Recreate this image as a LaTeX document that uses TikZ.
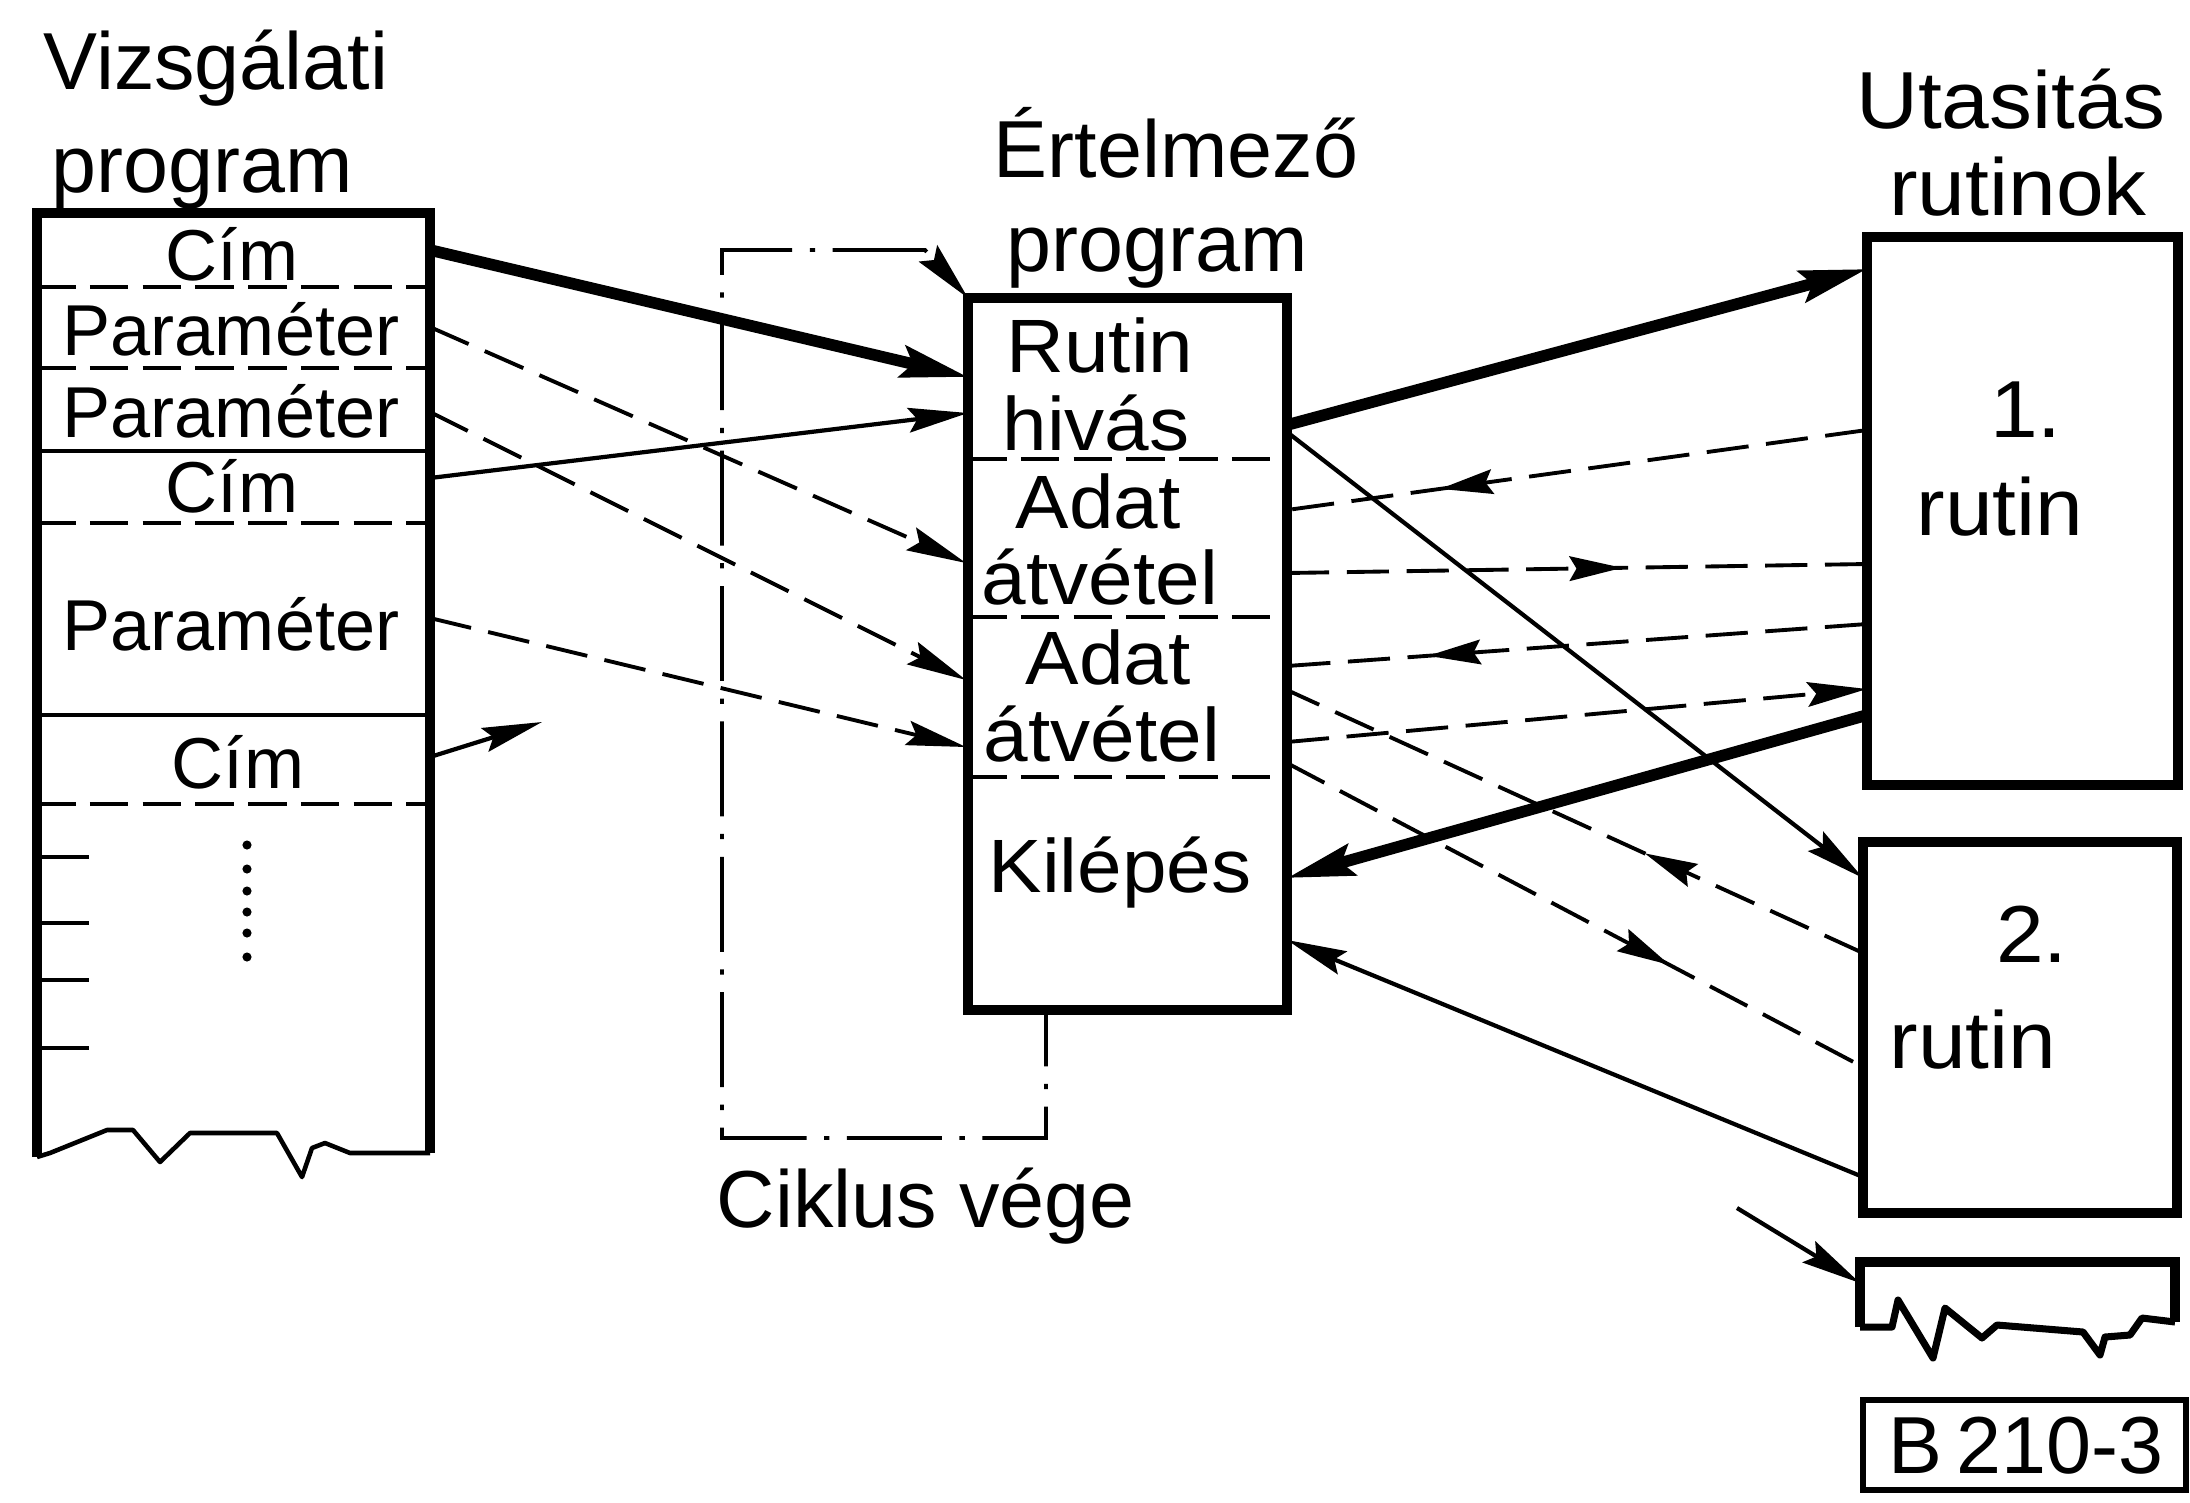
\documentclass[tikz,border=0pt]{standalone}
\usepackage{fontspec}
\setmainfont{Liberation Sans}
\newfontfamily\widefont{Liberation Sans}[FakeStretch=1.06]
\usetikzlibrary{arrows.meta,decorations.markings}
\begin{document}
\begin{tikzpicture}[x=0.01cm,y=-0.01cm,
  box/.style={line width=2.8pt, line join=miter},
  divs/.style={line width=1.1pt},
  divd/.style={line width=1.1pt, dash pattern=on 11pt off 4pt},
  tipthk/.tip={Stealth[length=19pt,width=9pt,inset=3pt]},
  tipthn/.tip={Stealth[length=17pt,width=7pt,inset=2.5pt]},
  thk/.style={line width=3.3pt, -tipthk},
  thn/.style={line width=1.2pt, -tipthn},
  dsh/.style={line width=1.1pt, dash pattern=on 12pt off 5pt},
  dsha/.style={dsh, -tipthn},
  marr/.style={postaction={decorate,decoration={markings,mark=at position #1 with {\arrow{Stealth[length=15pt,width=7pt,inset=2pt]}}}}},
  dd/.style={line width=1.1pt, dash pattern=on 27pt off 5pt on 1.5pt off 5pt},
  txt/.style={inner sep=0pt, anchor=base, font=\fontsize{23}{26}\selectfont},
  mtxt/.style={txt, font=\widefont\fontsize{21.5}{24}\selectfont},
  ltxt/.style={txt, font=\fontsize{20.5}{24}\selectfont},
  rtxt/.style={txt, font=\widefont\fontsize{23}{26}\selectfont},
]
\useasboundingbox (0,0) rectangle (2190,1502);

% ---------- left box: Vizsgalati program
\node[txt] (t1) at (216,89) {Vizsgálati};
\node[txt] (t2) at (202,192) {program};
\draw[box] (37,1157) -- (37,213) -- (430,213) -- (430,1153);
\draw[line width=1.3pt, line join=round] (37,1157) -- (50,1153) -- (107,1130) -- (133,1130) -- (160,1162) -- (190,1133) -- (277,1133) -- (302,1177) -- (312,1148) -- (325,1143) -- (350,1153) -- (430,1153);
\draw[divd] (37,287) -- (430,287);
\draw[divd] (37,368) -- (430,368);
\draw[divs] (37,451) -- (430,451);
\draw[divd] (37,523) -- (430,523);
\draw[divs] (37,715) -- (430,715);
\draw[divd] (37,804) -- (430,804);
\foreach \y in {857,923,980,1048} \draw[divs] (37,\y) -- (89,\y);
\foreach \y in {845,869,891,912,933,957} \fill (247,\y) circle (1.3pt);
\node[ltxt] (lc1) at (232,280) {Cím};
\node[ltxt] (lp1) at (231,355) {Paraméter};
\node[ltxt] (lp2) at (231,437) {Paraméter};
\node[ltxt] (lc2) at (232,512) {Cím};
\node[ltxt] (lp3) at (231,650) {Paraméter};
\node[ltxt] (lc3) at (238,788) {Cím};

% ---------- middle box: Ertelmezo program
\node[txt] (t3) at (1176,177) {Értelmező};
\node[txt] (t4) at (1157,271) {program};
\draw[box] (968,298) rectangle (1287,1010);
\draw[divd] (968,459) -- (1287,459);
\draw[divd] (968,617) -- (1287,617);
\draw[divd] (968,777) -- (1287,777);
\node[mtxt] (m1) at (1100,372) {Rutin};
\node[mtxt] (m2) at (1096,450) {hivás};
\node[mtxt] (m3) at (1098,528) {Adat};
\node[mtxt] (m4) at (1100,604) {átvétel};
\node[mtxt] (m5) at (1108,684) {Adat};
\node[mtxt] (m6) at (1102,761) {átvétel};
\node[mtxt] (m7) at (1120,892) {Kilépés};
\node[txt, anchor=base west] (ck) at (716,1227) {Ciklus vége};

% ---------- right boxes
\node[rtxt] (t5) at (2011,128) {Utasitás};
\node[rtxt] (t6) at (2018,215) {rutinok};
\draw[box] (1867,237) rectangle (2178,785);
\draw[box] (1863,842) rectangle (2177,1213);
\node[rtxt] (r1a) at (2026,437) {1.};
\node[rtxt] (r1b) at (2000,535) {rutin};
\node[rtxt] (r2a) at (2032,962) {2.};
\node[rtxt] (r2b) at (1973,1068) {rutin};
\draw[box] (1860,1327) -- (1860,1262) -- (2175,1262) -- (2175,1322);
\draw[line width=2pt, line join=round] (1860,1327) -- (1892,1327) -- (1898,1300) -- (1933,1358) -- (1945,1308) -- (1982,1338) -- (1997,1325) -- (2083,1332) -- (2100,1355) -- (2105,1337) -- (2130,1335) -- (2142,1318) -- (2175,1322);
\draw[line width=1.8pt] (1863,1400) rectangle (2186,1490);
\node[txt] (code) at (2026,1473) {B\,210-3};

% ---------- coordinates
\coordinate (L1) at (430,250);
\coordinate (L2) at (430,327);
\coordinate (L3) at (430,412);
\coordinate (L4) at (430,478);
\coordinate (L5) at (430,618);
\coordinate (L6) at (430,757);
\coordinate (L6e) at (542,722);
\coordinate (M1) at (968,377);
\coordinate (M2) at (968,413);
\coordinate (M3) at (966,563);
\coordinate (M4) at (966,680);
\coordinate (M5) at (966,747);
\coordinate (MB) at (1046,1010);
\coordinate (MC) at (968,298);
\coordinate (N1) at (1287,425);
\coordinate (N2) at (1287,432);
\coordinate (N3) at (1287,510);
\coordinate (N4) at (1287,573);
\coordinate (N5) at (1287,666);
\coordinate (N6) at (1287,742);
\coordinate (N7) at (1287,878);
\coordinate (N8) at (1287,690);
\coordinate (N9) at (1287,763);
\coordinate (N10) at (1287,940);
\coordinate (R1) at (1867,269);
\coordinate (R3) at (1867,430);
\coordinate (R4) at (1867,564);
\coordinate (R5) at (1867,624);
\coordinate (R6) at (1867,689);
\coordinate (R7) at (1867,715);
\coordinate (S1) at (1863,878);
\coordinate (S8) at (1863,953);
\coordinate (S9) at (1863,1067);
\coordinate (S10) at (1863,1177);
\coordinate (Z0) at (1737,1208);
\coordinate (Z1) at (1860,1283);

% ---------- connectors left -> middle
\draw[thk] (L1) -- (M1);
\draw[thn] (L4) -- (M2);
\draw[dsha] (L2) -- (M3);
\draw[dsha] (L3) -- (M4);
\draw[dsha] (L5) -- (M5);
\draw[thn] (L6) -- (L6e);
\draw[dd, dash phase=11pt, -tipthn] (MB) -- (1046,1138) -- (722,1138) -- (722,250) -- (925,250) -- (MC);

% ---------- connectors middle <-> right
\draw[thk] (N1) -- (R1);
\draw[thn] (N2) -- (S1);
\draw[dsh, marr=0.736] (R3) -- (N3);
\draw[dsh, marr=0.578] (N4) -- (R4);
\draw[dsh, marr=0.757] (R5) -- (N5);
\draw[dsha] (N6) -- (R6);
\draw[thk] (R7) -- (N7);
\draw[dsh, marr=0.379] (S8) -- (N8);
\draw[dsh, marr=0.664] (N9) -- (S9);
\draw[thn] (S10) -- (N10);
\draw[thn] (Z0) -- (Z1);
\end{tikzpicture}
\end{document}
